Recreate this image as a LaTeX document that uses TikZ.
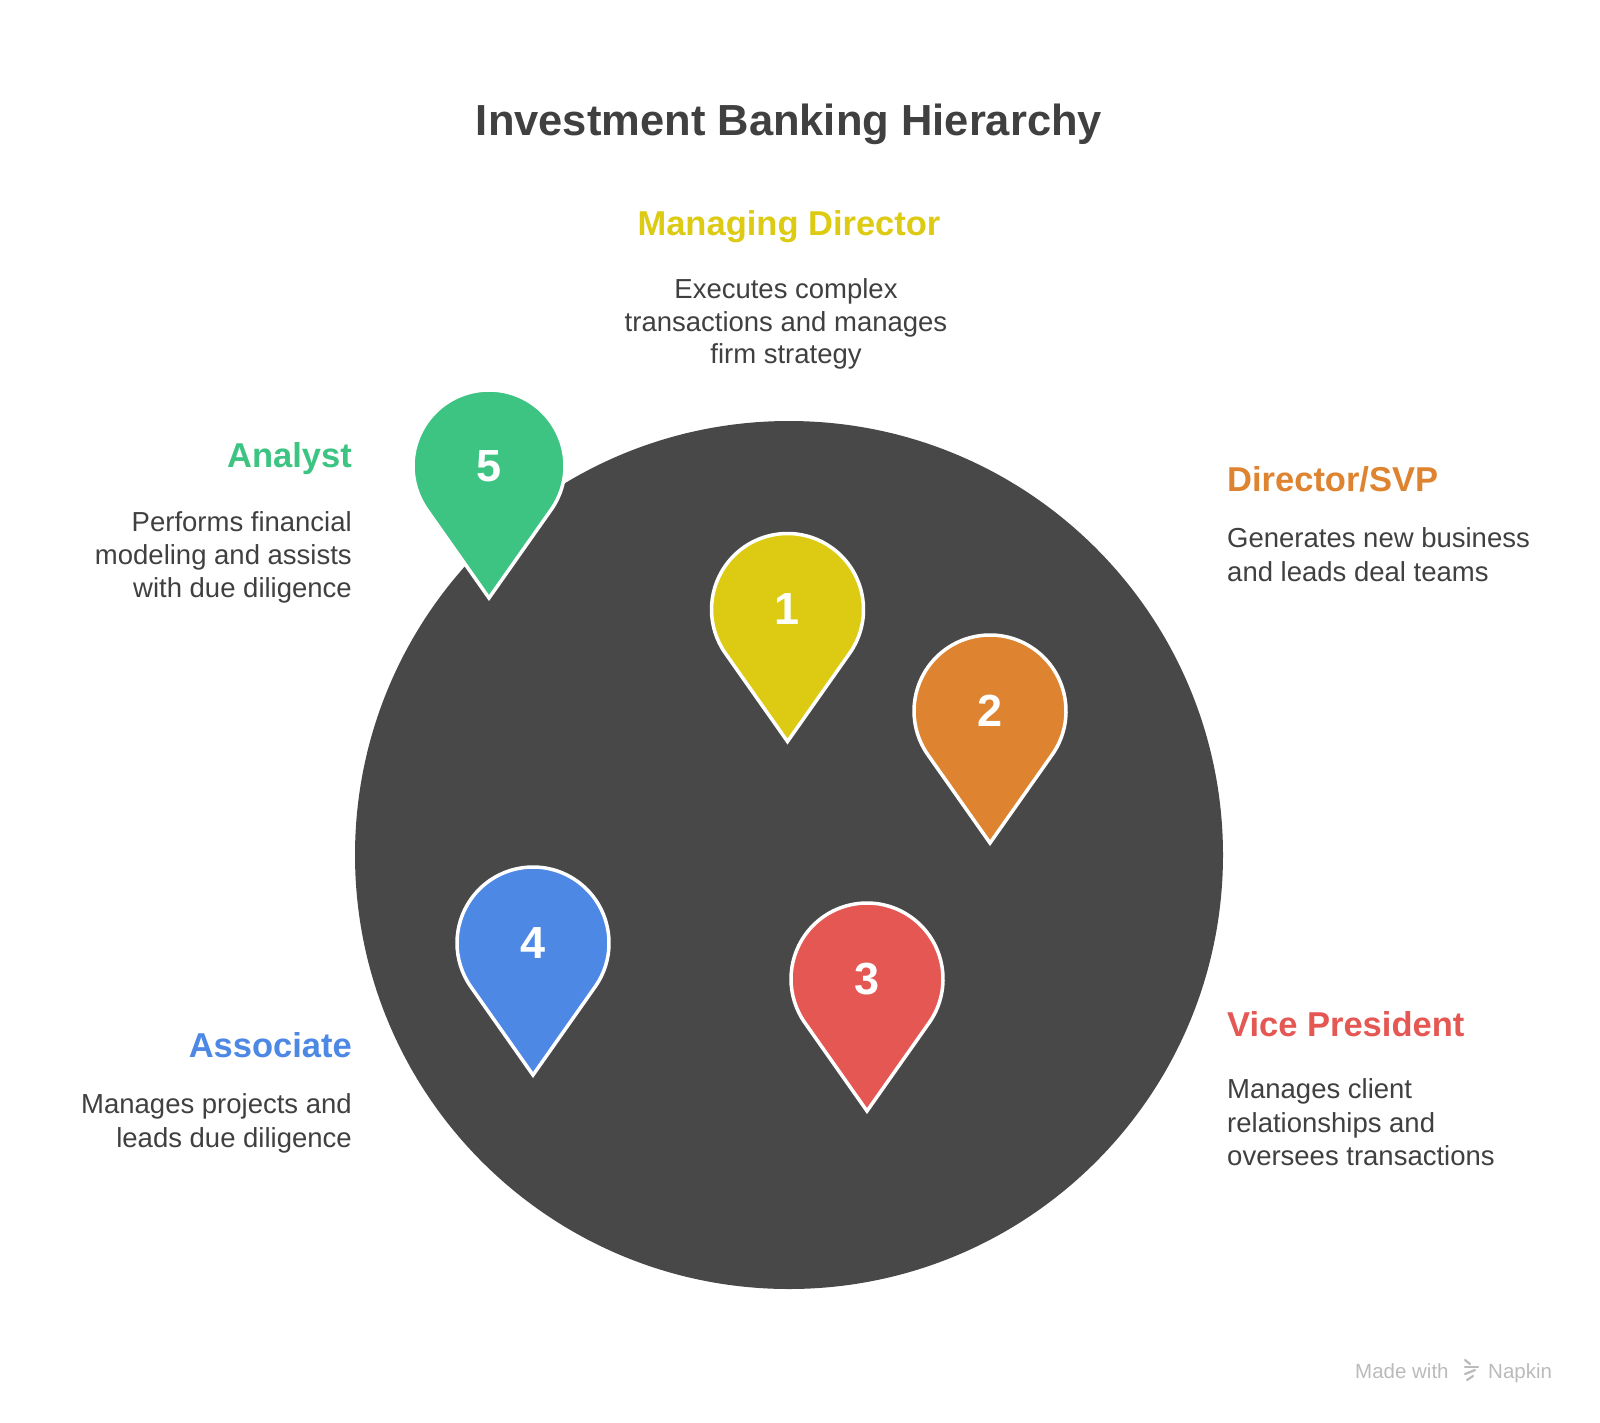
\documentclass[tikz,border=0pt]{standalone}
\usepackage{fontspec}
\setmainfont{Liberation Sans}
\definecolor{disc}{HTML}{484848}
\definecolor{ink}{HTML}{404040}
\definecolor{cyel}{HTML}{DDCB13}
\definecolor{corg}{HTML}{DE8431}
\definecolor{cred}{HTML}{E55753}
\definecolor{cblu}{HTML}{4D88E5}
\definecolor{cgrn}{HTML}{3DC482}
\definecolor{wm}{HTML}{BBBBBB}
\newcommand\mappin[5]{%
  \begin{scope}[shift={(#2,#3)}]
    \filldraw[fill=#4, draw=white, line width=3.5pt, line join=miter]
      (0,132) -- (35.15:76) arc[start angle=35.15, end angle=-215.15, radius=76] -- cycle;
  \end{scope}
  \node[digitlabel] (#1) at (#2,#3) {#5};}
\begin{document}
\begin{tikzpicture}[x=1pt,y=-1pt,
  digitlabel/.style={inner sep=0pt, text=white, font=\fontsize{45}{45}\selectfont\bfseries},
  titlestyle/.style={inner sep=0pt, text=ink, font=\fontsize{43.5}{50}\selectfont\bfseries},
  headstyle/.style={inner sep=0pt, font=\fontsize{34.5}{40}\selectfont\bfseries},
  bodystyle/.style={inner sep=0pt, text=ink, font=\fontsize{27.5}{33}\selectfont},
  wmstyle/.style={inner sep=0pt, text=wm, font=\fontsize{20.5}{24}\selectfont}]
\useasboundingbox (0,0) rectangle (1600,1422);
\fill[white] (0,0) rectangle (1600,1422);

% big disc
\fill[disc] (789,855) circle[radius=434];

% pins
\mappin{p1}{787.5}{609.5}{cyel}{1}
\mappin{p2}{990}{711}{corg}{2}
\mappin{p3}{867}{979}{cred}{3}
\mappin{p4}{533}{943}{cblu}{4}
\mappin{p5}{489}{466}{cgrn}{5}

% title
\node[titlestyle, anchor=base] (title) at (789,135) {Investment Banking Hierarchy};

% Managing Director
\node[headstyle, text=cyel, anchor=base] (mdh) at (789,235) {Managing Director};
\node[bodystyle, anchor=base] (md1) at (786,298) {Executes complex};
\node[bodystyle, anchor=base] (md2) at (786,331) {transactions and manages};
\node[bodystyle, anchor=base] (md3) at (786,363) {firm strategy};

% Analyst
\node[headstyle, text=cgrn, anchor=base east] (anh) at (352,467) {Analyst};
\node[bodystyle, anchor=base east] (an1) at (352,531) {Performs financial};
\node[bodystyle, anchor=base east] (an2) at (352,564) {modeling and assists};
\node[bodystyle, anchor=base east] (an3) at (352,597) {with due diligence};

% Director/SVP
\node[headstyle, text=corg, anchor=base west] (dsh) at (1227,491) {Director/SVP};
\node[bodystyle, anchor=base west] (ds1) at (1227,547) {Generates new business};
\node[bodystyle, anchor=base west] (ds2) at (1227,581) {and leads deal teams};

% Vice President
\node[headstyle, text=cred, anchor=base west] (vph) at (1227,1036) {Vice President};
\node[bodystyle, anchor=base west] (vp1) at (1227,1098) {Manages client};
\node[bodystyle, anchor=base west] (vp2) at (1227,1132) {relationships and};
\node[bodystyle, anchor=base west] (vp3) at (1227,1165) {oversees transactions};

% Associate
\node[headstyle, text=cblu, anchor=base east] (ash) at (352,1057) {Associate};
\node[bodystyle, anchor=base east] (as1) at (352,1113) {Manages projects and};
\node[bodystyle, anchor=base east] (as2) at (352,1147) {leads due diligence};

% watermark
\node[wmstyle, anchor=base west] (wm1) at (1355,1378) {Made with};
\node[wmstyle, anchor=base west] (wm2) at (1488,1378) {Napkin};
\begin{scope}[wm, line width=2.2pt, line cap=round]
  \draw (1465,1360) -- (1470,1364);
  \draw (1465,1367) -- (1478,1367);
  \draw (1465,1374) -- (1475,1370);
  \draw (1467,1380) -- (1473,1376);
\end{scope}
\end{tikzpicture}
\end{document}
